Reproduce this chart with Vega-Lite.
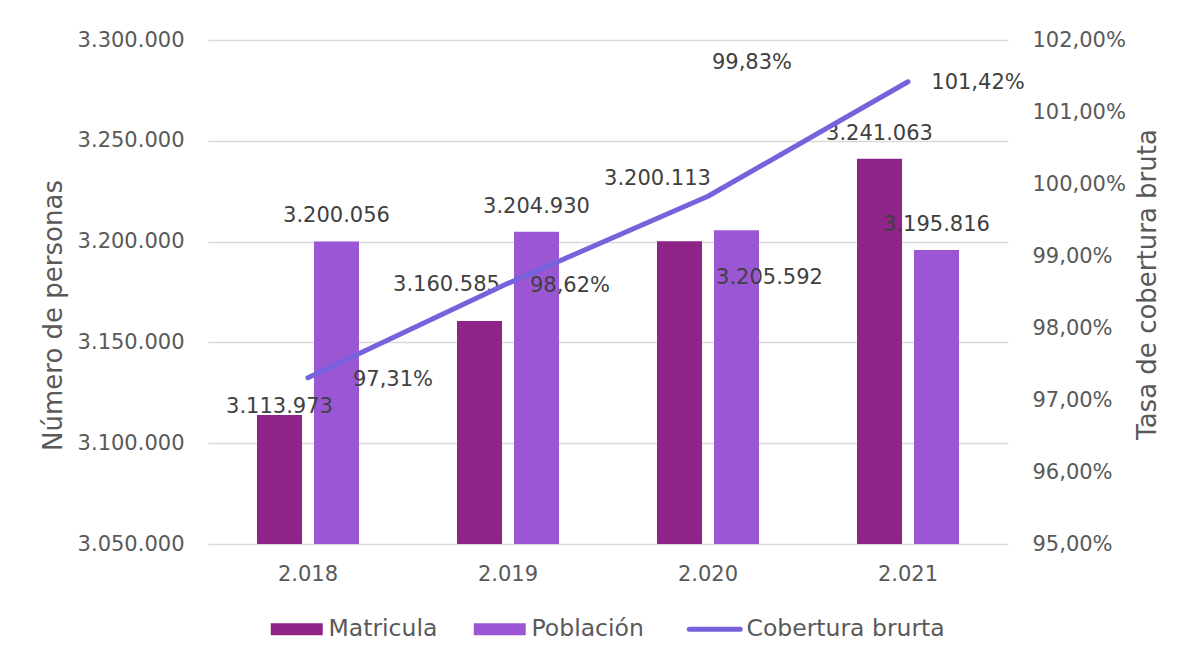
{
  "$schema": "https://vega.github.io/schema/vega-lite/v6.json",
  "width": 800,
  "height": 504,
  "autosize": {"type": "none"},
  "padding": {"left": 208, "top": 40, "right": 175, "bottom": 116},
  "background": "white",
  "config": {
    "locale": {"number": {"decimal": ",", "thousands": ".", "grouping": [3], "currency": ["", ""]}},
    "font": "DejaVu Sans",
    "view": {"stroke": null},
    "axis": {
      "labelColor": "#595959", "labelFontSize": 21, "labelFont": "DejaVu Sans",
      "titleColor": "#595959", "titleFontSize": 26, "titleFontWeight": "normal", "titleFont": "DejaVu Sans",
      "ticks": false, "tickSize": 0, "domain": false,
      "gridColor": "#D9D9D9", "gridWidth": 1.3
    },
    "text": {"font": "DejaVu Sans", "fontSize": 21, "fill": "#404040", "align": "center", "baseline": "middle"}
  },
  "datasets": {
    "barras": [
      {"anio": "2.018", "serie": "Matricula", "valor": 3113973},
      {"anio": "2.018", "serie": "Población", "valor": 3200056},
      {"anio": "2.019", "serie": "Matricula", "valor": 3160585},
      {"anio": "2.019", "serie": "Población", "valor": 3204930},
      {"anio": "2.020", "serie": "Matricula", "valor": 3200113},
      {"anio": "2.020", "serie": "Población", "valor": 3205592},
      {"anio": "2.021", "serie": "Matricula", "valor": 3241063},
      {"anio": "2.021", "serie": "Población", "valor": 3195816}
    ],
    "cobertura": [
      {"anio": "2.018", "tasa": 0.9731},
      {"anio": "2.019", "tasa": 0.9862},
      {"anio": "2.020", "tasa": 0.9983},
      {"anio": "2.021", "tasa": 1.0142}
    ]
  },
  "layer": [
    {
      "data": {"name": "barras"},
      "encoding": {
        "x": {
          "field": "anio", "type": "nominal",
          "scale": {"domain": ["2.018", "2.019", "2.020", "2.021"], "paddingInner": 0.49, "paddingOuter": 0.245},
          "axis": {"title": null, "labelAngle": 0, "labelPadding": 30, "labelBaseline": "middle", "grid": false}
        },
        "xOffset": {
          "field": "serie", "type": "nominal",
          "scale": {"domain": ["Matricula", "Población"], "paddingInner": 0.21, "paddingOuter": 0}
        },
        "y": {
          "field": "valor", "type": "quantitative",
          "scale": {"domain": [3050000, 3300000], "zero": false, "nice": false}
        }
      },
      "layer": [
        {
          "mark": {"type": "bar", "clip": true},
          "encoding": {
            "y": {
              "field": "valor", "type": "quantitative",
              "scale": {"domain": [3050000, 3300000], "zero": false, "nice": false},
              "axis": {
                "values": [3050000, 3100000, 3150000, 3200000, 3250000, 3300000],
                "format": ",.0f", "grid": true, "labelPadding": 24,
                "title": "Número de personas", "titleAngle": -90,
                "titleX": -155, "titleY": 275, "titleAlign": "center", "titleBaseline": "middle"
              }
            },
            "color": {
              "field": "serie", "type": "nominal",
              "scale": {"domain": ["Matricula", "Población", "Cobertura brurta"], "range": ["#8E2388", "#9B57D3", "#7662DB"]},
              "legend": {
                "orient": "none", "legendX": 77, "legendY": 577, "direction": "horizontal",
                "title": null, "labelFontSize": 23.5, "labelColor": "#595959", "labelFont": "DejaVu Sans",
                "labelLimit": 0,
                "symbolSize": 144, "labelOffset": 20, "columnPadding": 35,
                "encode": {
                  "symbols": {
                    "update": {
                      "shape": {"signal": "datum.value === 'Cobertura brurta' ? 'M-4.25,0H4.25' : 'M-4.33,-1H4.33V1H-4.33Z'"},
                      "fill": {"signal": "datum.value === 'Cobertura brurta' ? 'transparent' : (datum.value === 'Matricula' ? '#8E2388' : '#9B57D3')"},
                      "stroke": {"signal": "datum.value === 'Cobertura brurta' ? '#7662DB' : 'transparent'"},
                      "strokeWidth": {"signal": "datum.value === 'Cobertura brurta' ? 5 : 0"},
                      "strokeCap": {"value": "round"},
                      "opacity": {"value": 1}
                    }
                  }
                }
              }
            }
          }
        },
        {
          "transform": [{"filter": "(datum.serie === 'Población' && datum.anio !== '2.020') || (datum.serie === 'Matricula' && datum.anio === '2.021')"}],
          "mark": {"type": "text", "dy": -25},
          "encoding": {"text": {"field": "valor", "type": "quantitative", "format": ",.0f"}}
        },
        {
          "transform": [{"filter": "datum.serie === 'Matricula' && datum.anio === '2.018'"}],
          "mark": {"type": "text", "dy": -8},
          "encoding": {"text": {"field": "valor", "type": "quantitative", "format": ",.0f"}}
        },
        {
          "transform": [{"filter": "datum.serie === 'Matricula' && datum.anio === '2.019'"}],
          "mark": {"type": "text", "dx": -33, "dy": -36},
          "encoding": {"text": {"field": "valor", "type": "quantitative", "format": ",.0f"}}
        },
        {
          "transform": [{"filter": "datum.serie === 'Matricula' && datum.anio === '2.020'"}],
          "mark": {"type": "text", "dx": -22, "dy": -62},
          "encoding": {"text": {"field": "valor", "type": "quantitative", "format": ",.0f"}}
        },
        {
          "transform": [{"filter": "datum.serie === 'Población' && datum.anio === '2.020'"}],
          "mark": {"type": "text", "dx": 33, "dy": 48},
          "encoding": {"text": {"field": "valor", "type": "quantitative", "format": ",.0f"}}
        }
      ]
    },
    {
      "data": {"name": "cobertura"},
      "encoding": {
        "x": {"field": "anio", "type": "nominal", "scale": {"domain": ["2.018", "2.019", "2.020", "2.021"]}},
        "y": {"field": "tasa", "type": "quantitative", "scale": {"domain": [0.95, 1.02], "zero": false, "nice": false}}
      },
      "layer": [
        {
          "mark": {"type": "line", "color": "#7662DB", "strokeWidth": 5, "strokeCap": "round", "strokeJoin": "round"},
          "encoding": {
            "y": {
              "field": "tasa", "type": "quantitative",
              "scale": {"domain": [0.95, 1.02], "zero": false, "nice": false},
              "axis": {
                "orient": "right",
                "values": [0.95, 0.96, 0.97, 0.98, 0.99, 1.0, 1.01, 1.02],
                "format": ".2%", "grid": false, "labelPadding": 24,
                "title": "Tasa de cobertura bruta", "titleAngle": -90,
                "titleX": 139, "titleY": 244, "titleAlign": "center", "titleBaseline": "middle"
              }
            }
          }
        },
        {
          "transform": [{"filter": "datum.anio === '2.018'"}],
          "mark": {"type": "text", "dx": 85, "dy": 2},
          "encoding": {"text": {"field": "tasa", "type": "quantitative", "format": ".2%"}}
        },
        {
          "transform": [{"filter": "datum.anio === '2.019'"}],
          "mark": {"type": "text", "dx": 62, "dy": 3},
          "encoding": {"text": {"field": "tasa", "type": "quantitative", "format": ".2%"}}
        },
        {
          "transform": [{"filter": "datum.anio === '2.020'"}],
          "mark": {"type": "text", "dx": 44, "dy": -133},
          "encoding": {"text": {"field": "tasa", "type": "quantitative", "format": ".2%"}}
        },
        {
          "transform": [{"filter": "datum.anio === '2.021'"}],
          "mark": {"type": "text", "dx": 70, "dy": 1},
          "encoding": {"text": {"field": "tasa", "type": "quantitative", "format": ".2%"}}
        }
      ]
    }
  ],
  "resolve": {"scale": {"y": "independent"}}
}
